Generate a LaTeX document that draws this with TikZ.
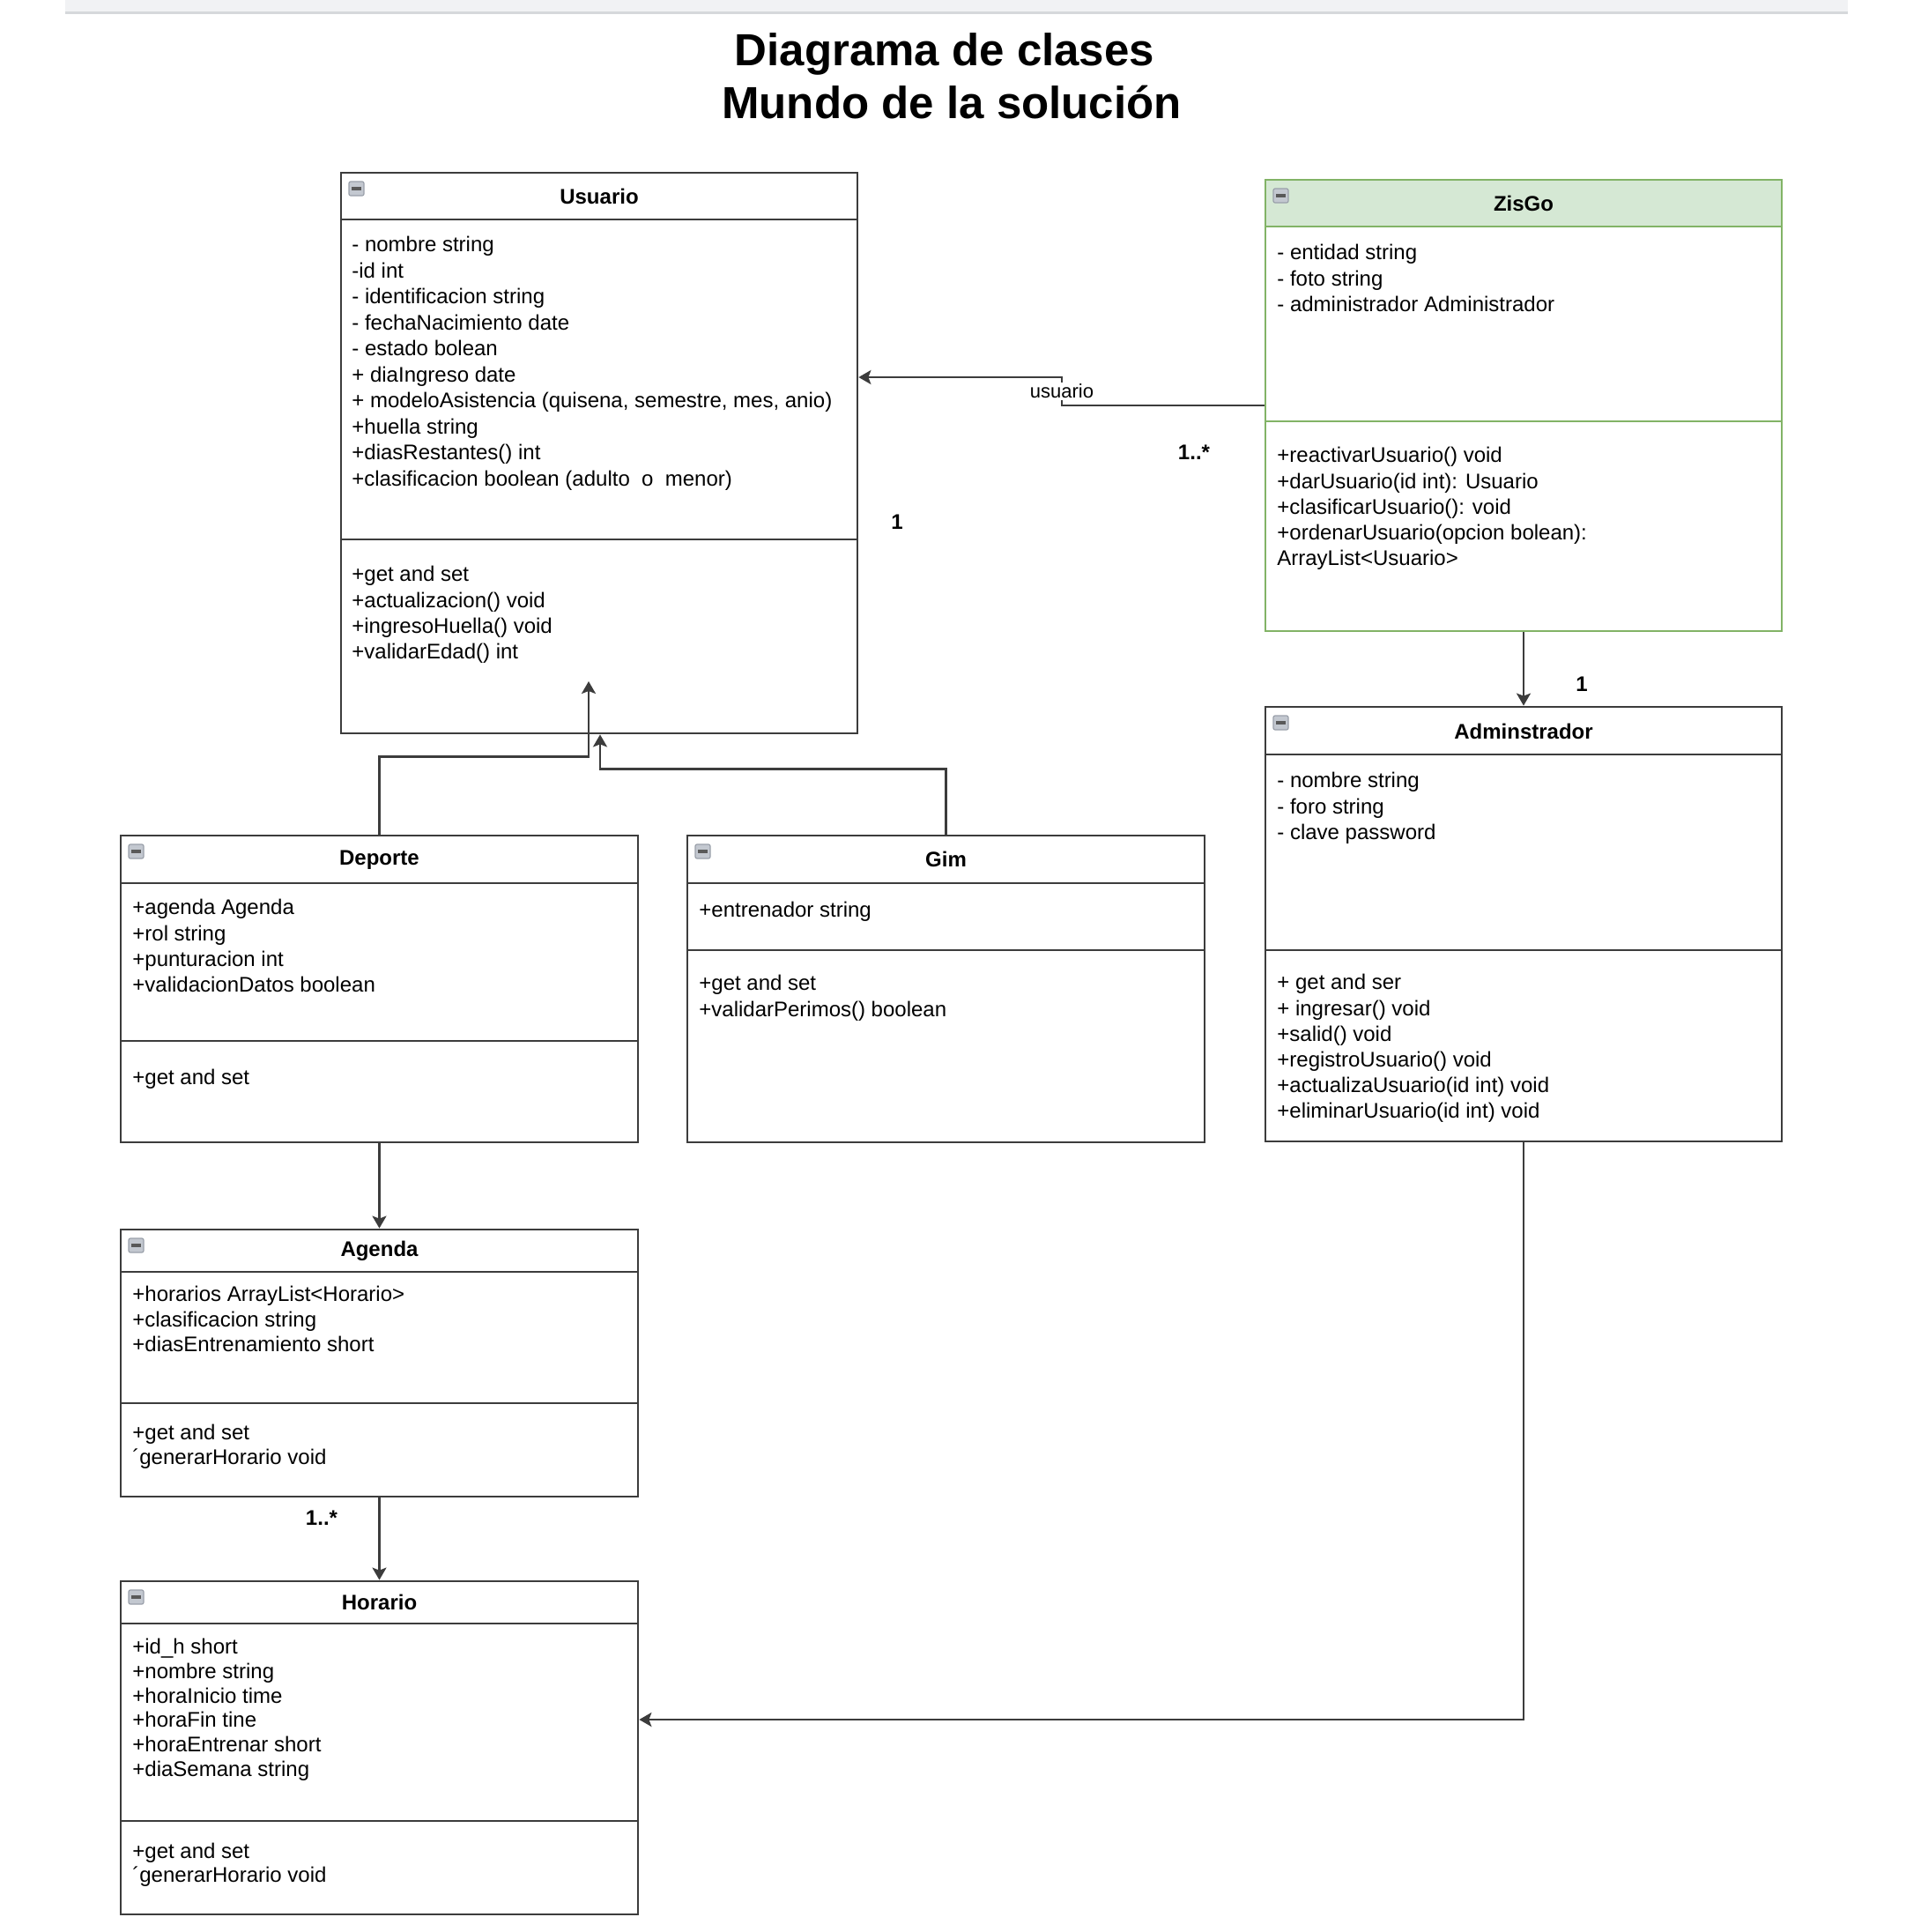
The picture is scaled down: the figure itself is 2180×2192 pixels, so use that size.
\documentclass[tikz,border=0pt]{standalone}
\usepackage{fontspec}
\setmainfont{Liberation Sans}
\usetikzlibrary{arrows.meta, fit, positioning}
\definecolor{linea}{HTML}{3C3C3C}
\definecolor{verdeborde}{HTML}{82B366}
\definecolor{verdefondo}{HTML}{D5E8D4}
\definecolor{iconogris}{HTML}{C3C8D0}
\definecolor{iconoborde}{HTML}{9AA0AA}
\definecolor{barragris}{HTML}{F1F2F4}
\definecolor{sombragris}{HTML}{D6D8DB}
\tikzset{
  clase/.style={rectangle, draw=#1, line width=1.4pt, inner sep=0pt},
  clase/.default=linea,
  division/.style={draw=#1, line width=1.4pt},
  division/.default=linea,
  titulo/.style={anchor=base, inner sep=0pt,
    font=\bfseries\fontsize{25.5}{30}\selectfont},
  nombre/.style={anchor=base, inner sep=0pt,
    font=\bfseries\fontsize{12}{14}\selectfont},
  campos/.style={anchor=north west, inner sep=0pt, align=left,
    font=\fontsize{12}{#1}\selectfont, execute at begin node=\strut},
  campos/.default=14.6pt,
  conector/.style={-{Stealth[length=7pt, width=8pt, inset=1.5pt]},
    line width=1.2pt, draw=linea},
  mult/.style={anchor=base, inner sep=0pt,
    font=\bfseries\fontsize{12}{14}\selectfont},
  etiqueta/.style={fill=white, inner sep=1pt,
    font=\fontsize{11}{13}\selectfont},
  icono/.style={fill=iconogris, draw=iconoborde, line width=0.6pt,
    rounded corners=1pt}
}
\begin{document}
\begin{tikzpicture}[x=0.5pt, y=-0.5pt]
  \useasboundingbox (0,0) rectangle (2180,2192);
  \fill[white] (0,0) rectangle (2180,2192);
  % Barra superior
  \fill[barragris] (74,0) rectangle (2097,13);
  \fill[sombragris] (74,13) rectangle (2097,16);
  % Titulo
  \node[titulo] (titulo-1) at (1072,74) {Diagrama de clases};
  \node[titulo] (titulo-2) at (1080,134) {Mundo de la solución};

  % Usuario
  \node[clase, fit={(387,196) (973,832)}] (usuario) {};
  \draw[division] (387,249) -- (973,249);
  \draw[division] (387,612) -- (973,612);
  \node[nombre] (usuario-nombre) at (680,231) {Usuario};
  \node[campos=14.75pt] (usuario-attr) at (399,268) {%
    - nombre string\\
    -id int\\
    - identificacion string\\
    - fechaNacimiento date\\
    - estado bolean\\
    + diaIngreso date\\
    + modeloAsistencia (quisena, semestre, mes, anio)\\
    +huella string\\
    +diasRestantes() int\\
    +clasificacion boolean (adulto~~o~~menor)};
  \node[campos] (usuario-met) at (399,642) {%
    +get and set\\
    +actualizacion() void\\
    +ingresoHuella() void\\
    +validarEdad() int};

  % ZisGo
  \fill[verdefondo] (1436,204) rectangle (2022,257);
  \node[clase=verdeborde, fit={(1436,204) (2022,716)}] (zisgo) {};
  \draw[division=verdeborde] (1436,257) -- (2022,257);
  \draw[division=verdeborde] (1436,478) -- (2022,478);
  \node[nombre] (zisgo-nombre) at (1729,239) {ZisGo};
  \node[campos] (zisgo-attr) at (1449,277) {%
    - entidad string\\
    - foto string\\
    - administrador Administrador};
  \node[campos] (zisgo-met) at (1449,507) {%
    +reactivarUsuario() void\\
    +darUsuario(id int): Usuario\\
    +clasificarUsuario(): void\\
    +ordenarUsuario(opcion bolean):\\
    ArrayList<Usuario>};

  % Adminstrador
  \node[clase, fit={(1436,802) (2022,1295)}] (admin) {};
  \draw[division] (1436,856) -- (2022,856);
  \draw[division] (1436,1078) -- (2022,1078);
  \node[nombre] (admin-nombre) at (1729,838) {Adminstrador};
  \node[campos] (admin-attr) at (1449,876) {%
    - nombre string\\
    - foro string\\
    - clave password};
  \node[campos] (admin-met) at (1449,1105) {%
    + get and ser\\
    + ingresar() void\\
    +salid() void\\
    +registroUsuario() void\\
    +actualizaUsuario(id int) void\\
    +eliminarUsuario(id int) void};

  % Deporte
  \node[clase, fit={(137,948) (724,1296)}] (deporte) {};
  \draw[division] (137,1002) -- (724,1002);
  \draw[division] (137,1181) -- (724,1181);
  \node[nombre] (deporte-nombre) at (430.5,981) {Deporte};
  \node[campos] (deporte-attr) at (150,1020) {%
    +agenda Agenda\\
    +rol string\\
    +punturacion int\\
    +validacionDatos boolean};
  \node[campos] (deporte-met) at (150,1210) {+get and set};

  % Gim
  \node[clase, fit={(780,948) (1367,1296)}] (gim) {};
  \draw[division] (780,1002) -- (1367,1002);
  \draw[division] (780,1078) -- (1367,1078);
  \node[nombre] (gim-nombre) at (1073.5,983) {Gim};
  \node[campos] (gim-attr) at (793,1020) {+entrenador string};
  \node[campos] (gim-met) at (793,1106) {%
    +get and set\\
    +validarPerimos() boolean};

  % Agenda
  \node[clase, fit={(137,1395) (724,1698)}] (agenda) {};
  \draw[division] (137,1443) -- (724,1443);
  \draw[division] (137,1592) -- (724,1592);
  \node[nombre] (agenda-nombre) at (430.5,1425) {Agenda};
  \node[campos=14.25pt] (agenda-attr) at (150,1459) {%
    +horarios ArrayList<Horario>\\
    +clasificacion string\\
    +diasEntrenamiento short};
  \node[campos=14pt] (agenda-met) at (150,1616) {%
    +get and set\\
    ´generarHorario void};

  % Horario
  \node[clase, fit={(137,1794) (724,2172)}] (horario) {};
  \draw[division] (137,1842) -- (724,1842);
  \draw[division] (137,2066) -- (724,2066);
  \node[nombre] (horario-nombre) at (430.5,1826) {Horario};
  \node[campos=13.85pt] (horario-attr) at (150,1859) {%
    +id\_h short\\
    +nombre string\\
    +horaInicio time\\
    +horaFin tine\\
    +horaEntrenar short\\
    +diaSemana string};
  \node[campos=13.5pt] (horario-met) at (150,2091) {%
    +get and set\\
    ´generarHorario void};

  % Iconos de plegado
  \foreach \x/\y in {387/196, 1436/204, 1436/802, 137/948,
                     780/948, 137/1395, 137/1794}{%
    \draw[icono] (\x+9,\y+10) rectangle (\x+26,\y+26);
    \draw[line width=1.6pt, linea!85] (\x+12,\y+18) -- (\x+23,\y+18);}

  % Relaciones
  \draw[conector] (zisgo.west) -- (1205,460)
    -- node[etiqueta] (rol-usuario) {usuario} (1205,428)
    -- ([yshift=43pt]usuario.east);
  \coordinate (punta-deporte) at (668,773);
  \draw[conector] (deporte.north) -- ++(0,-88) -| (punta-deporte);
  \draw[conector] (gim.north) -- ++(0,-74) -| ([xshift=0.5pt]usuario.south);
  \draw[conector] (zisgo.south) -- (admin.north);
  \draw[conector] (deporte.south) -- (agenda.north);
  \draw[conector] (agenda.south) -- (horario.north);
  \draw[conector] (admin.south) |- ([yshift=16pt]horario.east);

  % Multiplicidades
  \node[mult] (m-zisgo) at (1355,521) {1..*};
  \node[mult] (m-usuario) at (1018,600) {1};
  \node[mult] (m-admin) at (1795,784) {1};
  \node[mult] (m-horario) at (365,1730) {1..*};
\end{tikzpicture}
\end{document}
